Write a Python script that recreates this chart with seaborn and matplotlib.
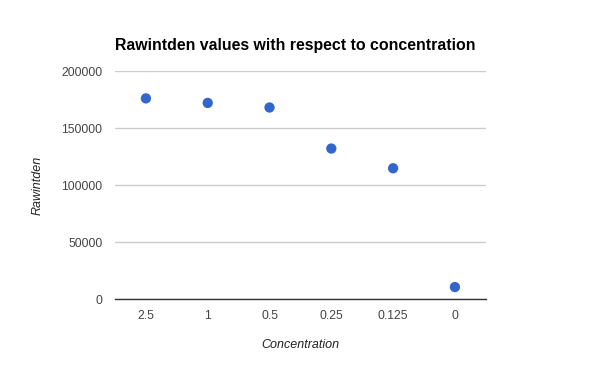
import matplotlib
matplotlib.use("Agg")
import matplotlib.pyplot as plt
import seaborn as sns
import pandas as pd

concentration = ["2.5", "1", "0.5", "0.25", "0.125", "0"]
rawintden = [176000, 172000, 168000, 132000, 114700, 10500]
y_ticks = [0, 50000, 100000, 150000, 200000]

sns.set_theme(style="white")
plt.rcParams['font.family'] = ['Liberation Sans', 'DejaVu Sans']

df = pd.DataFrame({"Concentration": concentration, "Rawintden": rawintden})

fig = plt.figure(figsize=(6, 3.71), dpi=100)
ax = fig.add_axes([0.1917, 0.194, 0.618, 0.6146])

sns.scatterplot(data=df, x="Concentration", y="Rawintden", ax=ax,
                color="#3366cc", s=55, edgecolor="none", zorder=3)

ax.set_xlim(-0.5, len(concentration) - 0.5)
ax.set_ylim(0, 200000)
ax.set_yticks(y_ticks)
ax.set_yticklabels([str(v) for v in y_ticks])
ax.grid(axis="y", color="#cccccc", linewidth=1)
ax.grid(axis="x", visible=False)
for s in ["top", "right", "left"]:
    ax.spines[s].set_visible(False)
ax.spines["bottom"].set_color("#333333")
ax.spines["bottom"].set_linewidth(1)
ax.tick_params(axis="both", length=0, labelsize=8.7, labelcolor="#444444")
ax.tick_params(axis="y", pad=9)
ax.tick_params(axis="x", pad=8)

ax.set_xlabel("Concentration", fontsize=9, style="italic", color="#222222", labelpad=12)
ax.set_ylabel("Rawintden", fontsize=9, style="italic", color="#222222", labelpad=13)
fig.text(0.1917, 0.865, "Rawintden values with respect to concentration",
         fontsize=11.4, fontweight="bold", color="#000000", ha="left", va="baseline")

fig.savefig("out.png", dpi=100, facecolor="white")
